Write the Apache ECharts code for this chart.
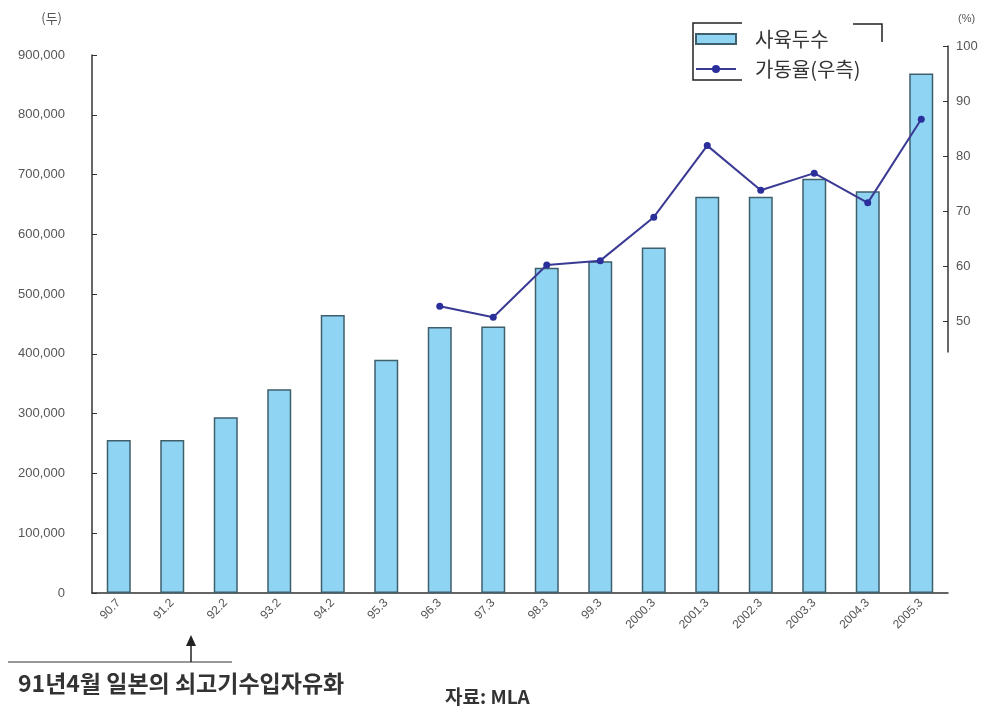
<!DOCTYPE html>
<html>
<head>
<meta charset="utf-8">
<script src="https://cdn.jsdelivr.net/npm/echarts@6/dist/echarts.min.js"></script>
<style>
html, body { margin: 0; padding: 0; background: #fff; }
#main { width: 1002px; height: 711px; }
</style>
</head>
<body>
<div id="main"></div>
<script>
// 사육두수 (두), 가동율 (%)
var categories = ['90.7', '91.2', '92.2', '93.2', '94.2', '95.3', '96.3', '97.3', '98.3', '99.3',
	'2000.3', '2001.3', '2002.3', '2003.3', '2004.3', '2005.3'];
var heads = [256000, 256000, 294000, 341000, 465000, 390000, 445000, 446000, 544000, 555000,
	578000, 663000, 663000, 693000, 672000, 869000];
var rate = [null, null, null, null, null, null, 52.7, 50.7, 60.2, 61.0,
	68.9, 81.9, 73.8, 76.9, 71.5, 86.7];
var rightTicks = [50, 60, 70, 80, 90, 100];

var fontLatin = 'Liberation Sans, Arial, sans-serif';
var fontKr = '"Noto Sans CJK KR", sans-serif';

var chart = echarts.init(document.getElementById('main'));

var option = {
	backgroundColor: '#fff',
	animation: false,
	grid: [
		{ left: 92, right: 54, top: 55, bottom: 118 },
		{ left: 92, right: 54, top: 46, height: 306 }
	],
	legend: {
		orient: 'vertical',
		left: 690,
		top: 24,
		itemWidth: 40,
		itemHeight: 10,
		itemGap: 10,
		textStyle: { fontFamily: fontKr, fontSize: 20, color: '#333', padding: [0, 0, 0, 14] },
		data: [{ name: '사육두수', icon: 'rect' }, { name: '가동율(우측)' }]
	},
	xAxis: [
		{
			type: 'category',
			gridIndex: 0,
			data: categories,
			axisLine: { lineStyle: { color: '#333', width: 1.5 } },
			axisTick: { inside: true, length: 4, lineStyle: { color: '#333' } },
			axisLabel: { rotate: 45, fontSize: 12, color: '#555', fontFamily: fontLatin, margin: 8 }
		},
		{
			type: 'category',
			gridIndex: 1,
			data: categories,
			show: false
		}
	],
	yAxis: [
		{
			type: 'value',
			gridIndex: 0,
			min: 0,
			max: 900000,
			interval: 100000,
			name: '(두)',
			nameLocation: 'end',
			nameGap: 30,
			nameTextStyle: { fontFamily: fontKr, fontSize: 13, color: '#555', align: 'right', padding: [0, 30, 0, 0] },
			axisLine: { show: true, lineStyle: { color: '#333', width: 1.5 } },
			axisTick: { show: true, inside: true, length: 5, lineStyle: { color: '#333' } },
			splitLine: { show: false },
			axisLabel: {
				fontSize: 13, color: '#555', fontFamily: fontLatin, margin: 27,
				formatter: function(v) { return v.toLocaleString('en-US'); }
			}
		},
		{
			type: 'value',
			gridIndex: 1,
			position: 'right',
			min: 44.4,
			max: 100,
			name: '(%)',
			nameLocation: 'end',
			nameGap: 22,
			nameTextStyle: { fontFamily: fontLatin, fontSize: 11, color: '#555', align: 'left', padding: [0, 0, 0, 10] },
			axisLine: { show: true, lineStyle: { color: '#333', width: 1.5 } },
			axisTick: { show: true, inside: true, length: 5, lineStyle: { color: '#333' }, customValues: rightTicks },
			splitLine: { show: false },
			axisLabel: { fontSize: 13, color: '#555', fontFamily: fontLatin, margin: 8, customValues: rightTicks }
		}
	],
	series: [
		{
			name: '사육두수',
			type: 'bar',
			xAxisIndex: 0,
			yAxisIndex: 0,
			barWidth: 24,
			data: heads,
			itemStyle: { color: '#8fd4f2', borderColor: '#3f5f6c', borderWidth: 1.5 }
		},
		{
			name: '가동율(우측)',
			type: 'line',
			xAxisIndex: 1,
			yAxisIndex: 1,
			data: rate,
			symbol: 'circle',
			symbolSize: 7,
			lineStyle: { color: '#3a3a94', width: 2 },
			itemStyle: { color: '#2a2f9c' }
		}
	],
	graphic: [
		// legend bracket
		{ type: 'polyline', shape: { points: [[742, 23], [693, 23], [693, 80], [742, 80]] },
			style: { stroke: '#222', lineWidth: 1.5, fill: null } },
		{ type: 'polyline', shape: { points: [[853, 24], [882, 24], [882, 42]] },
			style: { stroke: '#222', lineWidth: 1.5, fill: null } },
		// annotation arrow
		{ type: 'line', shape: { x1: 8, y1: 662, x2: 232, y2: 662 }, style: { stroke: '#333', lineWidth: 1 } },
		{ type: 'line', shape: { x1: 191, y1: 662, x2: 191, y2: 645 }, style: { stroke: '#222', lineWidth: 1.5 } },
		{ type: 'polygon', shape: { points: [[191, 635], [186, 646], [196, 646]] }, style: { fill: '#222' } },
		{ type: 'text', left: 18, top: 672,
			style: { text: '91년4월 일본의 쇠고기수입자유화', font: 'bold 23px "Noto Sans CJK KR", sans-serif', fill: '#333' } },
		{ type: 'text', left: 445, top: 687,
			style: { text: '자료: MLA', font: 'bold 19px "Noto Sans CJK KR", sans-serif', fill: '#333' } }
	]
};

chart.setOption(option);
</script>
</body>
</html>
